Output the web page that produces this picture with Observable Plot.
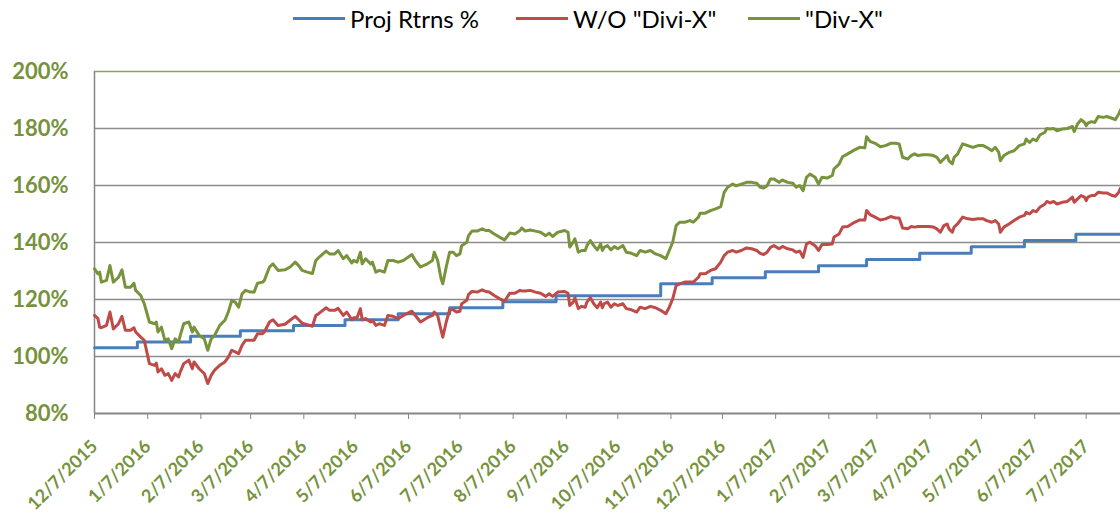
<!DOCTYPE html>
<html><head><meta charset="utf-8">
<script src="https://cdn.jsdelivr.net/npm/d3@7"></script>
<script src="https://cdn.jsdelivr.net/npm/@observablehq/plot@0.6"></script>
<style>
body{margin:0;background:#fff;width:1120px;height:512px;overflow:hidden;font-family:Lato,sans-serif}
#legend{position:relative;height:36px;width:1120px}
.item{position:absolute;top:0;height:36px;display:flex;align-items:center;font-size:24px;color:#000;white-space:nowrap}
.sw{width:52px;height:3px;margin-right:5px}
</style></head>
<body><div id="legend"></div><div id="chart"></div>
<script>
// ---- data ----
const seriesNames = ["Proj Rtrns %", "W/O \"Divi-X\"", "\"Div-X\""];
const seriesColors = ["#4a7ebb", "#be4b48", "#77933c"];

const xTickLabels = ["12/7/2015","1/7/2016","2/7/2016","3/7/2016","4/7/2016","5/7/2016","6/7/2016","7/7/2016","8/7/2016","9/7/2016","10/7/2016","11/7/2016","12/7/2016","1/7/2017","2/7/2017","3/7/2017","4/7/2017","5/7/2017","6/7/2017","7/7/2017"];
const yTicks = [80, 100, 120, 140, 160, 180, 200];
const xDomain = ["2015-12-07", "2017-07-27"];

// Proj Rtrns % (monthly steps)
const projDates = ["2015-12-07","2016-01-01","2016-02-01","2016-03-01","2016-04-01","2016-05-01","2016-06-01","2016-07-01","2016-08-01","2016-09-01","2016-11-01","2016-12-01","2017-01-01","2017-02-01","2017-03-01","2017-04-01","2017-05-01","2017-06-01","2017-07-01","2017-07-27"];
const projValues = [103.1,105.1,107.1,109.0,110.9,112.9,115.0,117.1,119.2,121.3,125.5,127.6,129.7,131.8,134.0,136.2,138.5,140.7,142.9,142.9];

// shared dates of the two daily series
const dates = [
"2015-12-07","2015-12-09","2015-12-10","2015-12-11","2015-12-14","2015-12-16","2015-12-18","2015-12-21","2015-12-23","2015-12-25","2015-12-28","2015-12-30","2015-12-31",
"2016-01-03","2016-01-05","2016-01-08","2016-01-11","2016-01-12","2016-01-13","2016-01-15","2016-01-17","2016-01-19","2016-01-21","2016-01-23","2016-01-25","2016-01-26","2016-01-28","2016-01-31",
"2016-02-02","2016-02-03","2016-02-06","2016-02-09","2016-02-11","2016-02-13","2016-02-15","2016-02-18","2016-02-21","2016-02-23","2016-02-25","2016-02-27","2016-02-29",
"2016-03-02","2016-03-04","2016-03-07","2016-03-09","2016-03-11","2016-03-14",
"2016-03-15","2016-03-18","2016-03-20","2016-03-23","2016-03-27","2016-03-30","2016-04-02","2016-04-04","2016-04-06","2016-04-09","2016-04-12","2016-04-14","2016-04-16","2016-04-20","2016-04-22","2016-04-25","2016-04-27","2016-04-30",
"2016-05-02","2016-05-05","2016-05-06","2016-05-08","2016-05-10","2016-05-11","2016-05-13","2016-05-16","2016-05-17","2016-05-19","2016-05-21","2016-05-24","2016-05-26","2016-05-29",
"2016-06-01","2016-06-04","2016-06-09","2016-06-11","2016-06-14","2016-06-18","2016-06-21",
"2016-06-22","2016-06-24","2016-06-26","2016-06-27","2016-06-29","2016-07-01","2016-07-03","2016-07-05","2016-07-07","2016-07-08","2016-07-11","2016-07-12","2016-07-14","2016-07-17","2016-07-20","2016-07-22","2016-07-24","2016-07-27","2016-07-30",
"2016-08-02","2016-08-05","2016-08-08","2016-08-11","2016-08-12","2016-08-14","2016-08-17","2016-08-20","2016-08-23","2016-08-26","2016-08-28","2016-08-30",
"2016-09-02","2016-09-06","2016-09-08","2016-09-09","2016-09-11","2016-09-12","2016-09-14","2016-09-16","2016-09-18","2016-09-19","2016-09-21","2016-09-23","2016-09-25","2016-09-27","2016-09-28",
"2016-09-29","2016-10-01","2016-10-03","2016-10-05","2016-10-07","2016-10-10","2016-10-12","2016-10-15","2016-10-18","2016-10-20","2016-10-23","2016-10-26","2016-10-29",
"2016-11-01","2016-11-04","2016-11-06","2016-11-08","2016-11-10","2016-11-12","2016-11-15","2016-11-18","2016-11-20","2016-11-23","2016-11-24","2016-11-27","2016-11-30",
"2016-12-03","2016-12-06","2016-12-08","2016-12-10","2016-12-13","2016-12-15","2016-12-18","2016-12-21","2016-12-24","2016-12-27","2016-12-29","2016-12-31","2017-01-02","2017-01-04",
"2017-01-06","2017-01-09","2017-01-11","2017-01-14","2017-01-17","2017-01-19","2017-01-21","2017-01-23","2017-01-25","2017-01-27","2017-01-30",
"2017-02-01","2017-02-03","2017-02-06","2017-02-09","2017-02-10","2017-02-13","2017-02-15","2017-02-18","2017-02-22","2017-02-25","2017-02-28",
"2017-03-01","2017-03-03","2017-03-06","2017-03-09","2017-03-12","2017-03-15","2017-03-18","2017-03-20","2017-03-22","2017-03-25","2017-03-27","2017-03-29","2017-03-31",
"2017-04-03","2017-04-06","2017-04-09","2017-04-11","2017-04-13",
"2017-04-15","2017-04-17","2017-04-18","2017-04-20","2017-04-21","2017-04-23","2017-04-26","2017-04-29",
"2017-05-02","2017-05-05","2017-05-08","2017-05-10","2017-05-13","2017-05-15","2017-05-17","2017-05-18","2017-05-20","2017-05-23","2017-05-26","2017-05-29",
"2017-06-01","2017-06-02","2017-06-04","2017-06-06","2017-06-08","2017-06-10","2017-06-13","2017-06-14","2017-06-16","2017-06-18","2017-06-20","2017-06-23","2017-06-26","2017-06-29","2017-06-30",
"2017-07-02","2017-07-04","2017-07-06","2017-07-07","2017-07-08","2017-07-10","2017-07-12","2017-07-14","2017-07-17","2017-07-19","2017-07-22","2017-07-24","2017-07-26","2017-07-27"
];

// "Div-X"
const divX = [
130.8,129.0,129.6,126.1,126.7,131.9,126.1,127.8,130.4,124.3,124.3,125.7,123.2,
121.4,118.5,112.1,111.5,112.1,108.6,110.3,105.7,106.2,102.7,106.2,105.1,107.4,111.5,112.1,
108.6,110.3,107.4,106.2,102.2,106.2,107.4,110.9,112.7,115.6,119.7,119.1,117.3,
122.0,123.2,122.6,122.6,125.7,126.1,
126.7,131.4,132.5,130.2,130.4,131.4,133.1,131.9,130.2,129.6,129.1,133.7,134.9,137.0,136.0,136.0,137.2,134.3,
135.4,132.8,133.7,133.1,136.6,132.5,134.3,132.5,133.1,129.6,130.2,129.6,133.7,133.7,
133.1,133.7,135.8,133.7,131.4,132.5,133.7,
136.6,133.7,127.3,125.5,131.4,136.6,136.6,135.4,136.0,138.9,140.1,142.4,144.0,144.0,144.8,144.2,144.2,143.0,141.9,
140.9,143.3,143.0,144.2,145.1,144.0,144.4,144.0,143.6,142.4,143.3,142.1,
143.6,144.2,143.6,138.4,140.1,141.3,136.6,137.2,137.2,138.9,140.7,138.9,137.4,139.5,137.2,
138.3,138.9,137.4,138.6,137.8,138.9,136.6,136.2,135.4,137.2,136.6,137.2,136.0,
135.4,134.3,137.2,140.1,145.9,147.1,147.1,147.7,147.1,148.9,150.3,150.3,151.2,
151.8,152.6,157.6,159.4,160.5,159.9,160.5,161.1,161.1,160.8,159.4,159.1,159.9,162.3,
162.3,161.1,161.9,161.1,160.8,159.4,160.0,158.2,162.9,164.0,162.9,
160.5,162.9,162.6,163.5,165.8,167.5,170.1,171.1,172.5,173.4,173.2,
177.1,175.5,174.8,173.6,174.0,174.8,174.8,174.6,169.9,169.3,170.5,171.1,170.5,
170.8,170.8,170.5,169.9,168.1,
169.3,170.5,168.7,167.6,169.9,171.0,174.6,174.0,
173.4,174.0,174.0,173.4,172.2,173.4,171.7,168.7,170.5,171.6,172.2,174.0,
174.6,176.3,175.1,176.3,175.7,177.7,178.7,180.0,179.8,180.0,179.2,179.8,180.0,180.7,178.9,
181.6,183.1,182.1,181.0,181.9,182.4,182.1,184.2,183.9,184.2,183.6,183.1,185.1,186.6
];

// W/O "Divi-X"
const woDivX = [
114.4,113.3,110.3,110.1,110.9,115.6,109.7,111.5,114.1,109.2,109.2,110.1,108.6,
106.8,105.7,97.5,96.9,97.7,94.6,95.7,93.4,94.0,91.6,94.0,92.8,94.6,97.5,98.7,
95.7,98.1,95.7,94.0,90.5,93.4,95.2,96.9,98.1,99.8,102.2,101.6,101.0,
103.9,105.7,105.7,105.7,108.0,108.0,
108.6,112.1,112.9,110.9,111.3,112.7,114.1,112.9,111.7,111.2,110.6,114.4,115.2,117.1,116.2,116.2,116.9,114.4,
115.6,112.9,113.6,113.6,116.8,112.9,113.3,112.1,112.7,110.9,111.5,110.9,114.4,114.1,
113.3,114.4,115.9,114.4,112.1,113.6,114.4,
115.6,114.4,109.2,106.8,112.1,116.4,116.4,115.6,115.9,118.5,119.7,121.8,122.8,122.6,123.4,122.8,122.6,121.4,120.3,
119.4,122.2,122.2,123.2,123.0,123.0,123.2,122.6,122.2,121.1,122.0,121.1,
122.6,122.8,122.2,117.9,119.1,120.6,116.8,117.6,117.3,119.1,120.6,118.5,117.1,119.1,117.1,
118.5,119.1,117.3,118.5,117.9,118.5,116.8,116.4,115.6,117.3,116.8,117.6,117.1,
116.2,115.0,117.3,120.2,124.9,125.5,126.1,126.1,126.1,127.8,129.0,129.0,130.2,
130.8,133.1,135.4,136.6,137.2,136.6,137.2,138.1,137.8,137.2,136.2,135.8,136.6,138.3,
138.9,137.8,138.6,137.8,137.4,136.6,137.0,134.8,139.5,140.1,138.9,
137.2,139.3,139.3,139.5,141.9,143.0,145.4,145.6,147.1,147.9,147.9,
151.2,149.8,148.9,147.9,148.3,149.1,148.6,148.6,145.1,144.8,145.6,145.4,145.6,
145.6,145.6,145.4,144.8,143.6,
145.9,146.5,144.8,143.6,145.4,146.5,148.9,148.3,
148.1,148.3,148.3,147.7,147.1,147.7,146.5,143.6,145.4,146.5,147.7,148.9,
149.5,150.6,150.0,151.2,150.8,152.4,153.5,154.4,153.9,154.4,153.5,154.1,154.4,155.9,154.1,
155.3,156.5,155.9,154.7,155.9,156.5,156.5,157.6,157.4,157.4,156.5,156.2,157.6,159.0
];

// ---- build ----
const parseISO = d3.utcParse("%Y-%m-%d");
const parseTick = d3.utcParse("%m/%d/%Y");
const fmtTick = d3.utcFormat("%-m/%-d/%Y");
const projRows = projDates.map((d, i) => ({date: parseISO(d), value: projValues[i]}));
const woRows = dates.map((d, i) => ({date: parseISO(d), value: woDivX[i]}));
const divRows = dates.map((d, i) => ({date: parseISO(d), value: divX[i]}));
const xTicks = xTickLabels.map(parseTick);
const gridVals = yTicks.filter(v => v > 80 && v < 200);
const textGreen = "#76923c";
const axisGray = "#868686";

// legend
const legendLeft = [293, 516, 748];
const legend = document.getElementById("legend");
seriesNames.forEach((name, i) => {
  const it = document.createElement("div");
  it.className = "item";
  it.style.left = legendLeft[i] + "px";
  const sw = document.createElement("div");
  sw.className = "sw";
  sw.style.background = seriesColors[i];
  const tx = document.createElement("span");
  tx.textContent = name;
  it.appendChild(sw); it.appendChild(tx);
  legend.appendChild(it);
});

const chart = Plot.plot({
  width: 1120,
  height: 476,
  marginLeft: 94,
  marginRight: 0,
  marginTop: 35,
  marginBottom: 99,
  style: {fontFamily: "Lato, sans-serif", background: "#fff", overflow: "visible"},
  x: {type: "utc", domain: xDomain.map(parseISO), label: null},
  y: {domain: [80, 200], label: null},
  marks: [
    Plot.ruleY(gridVals, {stroke: "#8c8c8c", strokeWidth: 1.3}),
    Plot.ruleY([200], {stroke: "#8aa35c", strokeWidth: 1.3}),
    Plot.ruleX([parseISO(xDomain[0])], {stroke: axisGray, strokeWidth: 1.5}),
    Plot.ruleY([80], {stroke: axisGray, strokeWidth: 2}),
    Plot.axisY({ticks: yTicks, tickSize: 0, tickPadding: 26, tickFormat: d => d + "%", fill: textGreen, fontSize: 22, fontWeight: "bold", label: null}),
    Plot.axisX({ticks: xTicks, tickSize: 6, tickPadding: 24, tickRotate: -45, tickFormat: fmtTick, stroke: axisGray, fill: textGreen, fontSize: 18, fontWeight: "bold", label: null}),
    Plot.line(projRows, {x: "date", y: "value", curve: "step-after", stroke: seriesColors[0], strokeWidth: 3}),
    Plot.line(woRows, {x: "date", y: "value", stroke: seriesColors[1], strokeWidth: 3, strokeLinejoin: "round"}),
    Plot.line(divRows, {x: "date", y: "value", stroke: seriesColors[2], strokeWidth: 3, strokeLinejoin: "round"})
  ]
});
document.getElementById("chart").appendChild(chart);
</script>
</body></html>
